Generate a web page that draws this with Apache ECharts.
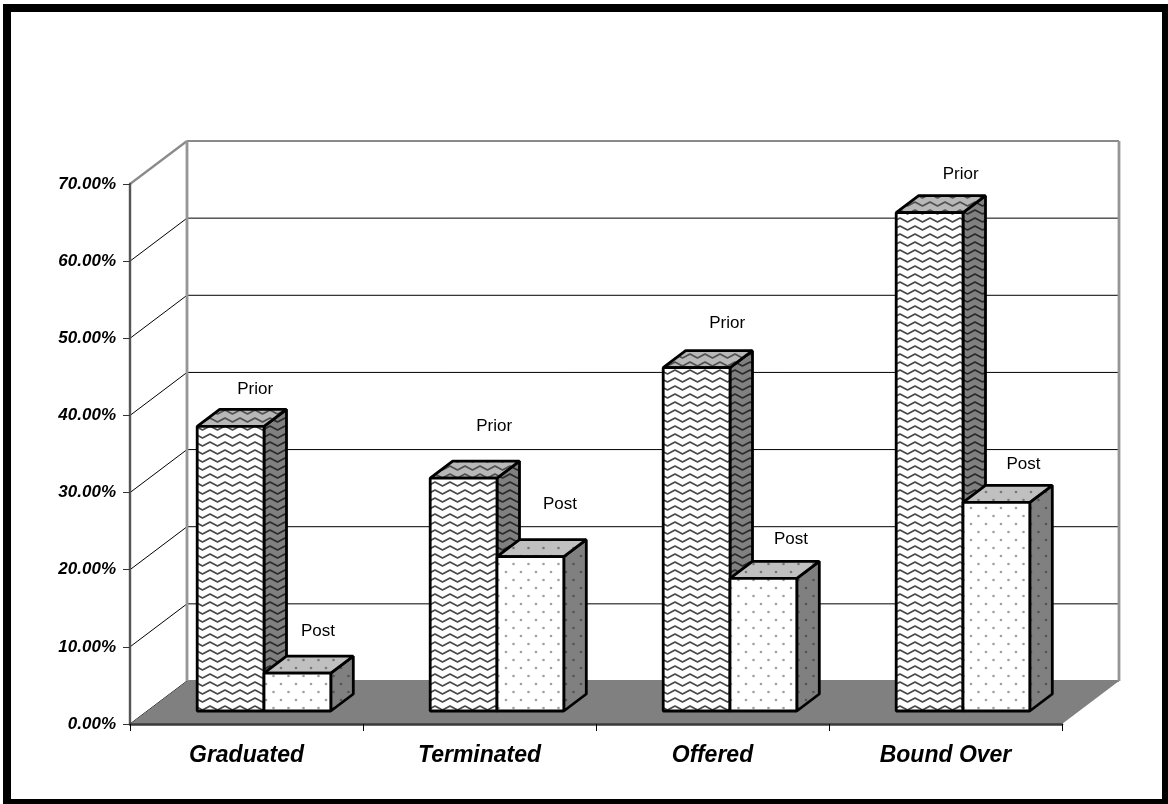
<!DOCTYPE html>
<html>
<head>
<meta charset="utf-8">
<title>Prior and Post rates by outcome</title>
<script src="https://cdn.jsdelivr.net/npm/echarts@6/dist/echarts.min.js"></script>
<style>
  html, body { margin: 0; padding: 0; background: #fff; }
  #chart { width: 1168px; height: 804px; }
</style>
</head>
<body>
<div id="chart"></div>
<script>
// Chart values, in percent
const categories = ['Graduated', 'Terminated', 'Offered', 'Bound Over'];
const priorValues = [36.9, 30.2, 44.5, 64.6];
const postValues = [4.9, 20.0, 17.2, 27.05];
const axisTicks = [0, 10, 20, 30, 40, 50, 60, 70];

// Hand-placed data labels: [shift right of the bar's centre, lift above its front top]
const priorLabelShift = [[24.5, 37], [30.5, 52], [30.5, 44.5], [31, 38.5]];
const postLabelShift = [[20.5, 42], [29.5, 52.5], [27.5, 39], [27, 38]];

// Oblique projection of the box: how far the back plane sits from the front plane
const ROOM_DEPTH = [57, -43];
const BAR_DEPTH = [22.5, -17];
const BAR_WIDTH = 66.8;
const BAR_INSET = 13;       // bars stand this far behind the front edge of the floor
const BAR_SHIFT = 17.5;     // and this far right of the category centre

const FONT = '"Liberation Sans", Arial, sans-serif';

function tile(w, h, background, paint) {
  const c = document.createElement('canvas');
  c.width = w;
  c.height = h;
  const ctx = c.getContext('2d');
  ctx.fillStyle = background;
  ctx.fillRect(0, 0, w, h);
  paint(ctx);
  return { image: c, repeat: 'repeat' };
}

function waveTile(background, ink) {
  return tile(15, 8, background, ctx => {
    ctx.strokeStyle = ink;
    ctx.lineWidth = 1.7;
    ctx.lineJoin = 'round';
    ctx.beginPath();
    ctx.moveTo(-7.5, 6);
    ctx.lineTo(0, 2);
    ctx.lineTo(7.5, 6);
    ctx.lineTo(15, 2);
    ctx.lineTo(22.5, 6);
    ctx.stroke();
  });
}

function dotTile(background, ink) {
  return tile(15, 16, background, ctx => {
    ctx.fillStyle = ink;
    ctx.beginPath();
    ctx.arc(3.5, 4, 1.35, 0, Math.PI * 2);
    ctx.closePath();
    ctx.arc(11, 12, 1.35, 0, Math.PI * 2);
    ctx.fill();
  });
}

const priorFaces = {
  front: waveTile('#ffffff', '#4a4a4a'),
  top: waveTile('#b8b8b8', '#505050'),
  side: waveTile('#808080', '#2a2a2a')
};
const postFaces = {
  front: dotTile('#ffffff', '#a0a0a0'),
  top: dotTile('#c0c0c0', '#777777'),
  side: dotTile('#808080', '#555555')
};

function polygon(points, fill) {
  return {
    type: 'polygon',
    shape: { points },
    style: { fill, stroke: '#000', lineWidth: 2.8, lineJoin: 'bevel' }
  };
}

// One 3D bar: front, top and side faces plus its text label.
// slot 0 sits left of the cluster's centre line, slot 1 to the right.
function boxRenderer(slot, faces, labelShift, labelText) {
  return (params, api) => {
    const index = api.value(0);
    const base = api.coord([index, 0]);
    const tip = api.coord([index, api.value(1)]);
    const left = base[0] + BAR_SHIFT + (slot - 1) * BAR_WIDTH;
    const right = left + BAR_WIDTH;
    const bottom = base[1] - BAR_INSET;
    const top = tip[1] - BAR_INSET;
    const [dx, dy] = BAR_DEPTH;
    const [shiftX, shiftY] = labelShift[index];
    return {
      type: 'group',
      children: [
        polygon([[right, top], [right + dx, top + dy], [right + dx, bottom + dy], [right, bottom]], faces.side),
        polygon([[left, top], [left + dx, top + dy], [right + dx, top + dy], [right, top]], faces.top),
        polygon([[left, top], [right, top], [right, bottom], [left, bottom]], faces.front),
        {
          type: 'text',
          style: {
            text: labelText,
            x: left + BAR_WIDTH / 2 + shiftX,
            y: top - shiftY,
            align: 'center',
            verticalAlign: 'middle',
            fill: '#000',
            font: '17px ' + FONT
          }
        }
      ]
    };
  };
}

// Gridlines across the left and back walls, one per axis tick
function wallLineRenderer(params, api) {
  const value = api.value(1);
  const sys = params.coordSys;
  const y = api.coord([0, value])[1];
  const bx = sys.x + ROOM_DEPTH[0];
  const by = y + ROOM_DEPTH[1];
  const isTop = value === axisTicks[axisTicks.length - 1];
  const colour = isTop ? '#8a8a8a' : '#000';
  const width = isTop ? 2.2 : 1;
  return {
    type: 'group',
    children: [
      { type: 'line', shape: { x1: sys.x, y1: y, x2: bx, y2: by }, style: { stroke: colour, lineWidth: width } },
      { type: 'line', shape: { x1: bx, y1: by, x2: bx + sys.width, y2: by }, style: { stroke: colour, lineWidth: width } }
    ]
  };
}

// Back wall side edges and the grey floor
function roomRenderer(params, api) {
  const sys = params.coordSys;
  const low = api.coord([0, 0])[1];
  const high = api.coord([0, axisTicks[axisTicks.length - 1]])[1];
  const x0 = sys.x;
  const x1 = x0 + sys.width;
  const [dx, dy] = ROOM_DEPTH;
  const edge = { stroke: '#969696', lineWidth: 2.8 };
  return {
    type: 'group',
    children: [
      { type: 'line', shape: { x1: x0 + dx, y1: high + dy, x2: x0 + dx, y2: low + dy }, style: edge },
      { type: 'line', shape: { x1: x1 + dx, y1: high + dy, x2: x1 + dx, y2: low + dy }, style: edge },
      {
        type: 'polygon',
        shape: { points: [[x0, low], [x0 + dx, low + dy], [x1 + dx, low + dy], [x1, low]] },
        style: { fill: '#808080' }
      }
    ]
  };
}

const chart = echarts.init(document.getElementById('chart'), null, { renderer: 'canvas' });

function customSeries(name, renderItem, data, z) {
  return {
    name,
    type: 'custom',
    coordinateSystem: 'cartesian2d',
    renderItem,
    data,
    z,
    clip: false,
    silent: true,
    animation: false,
    encode: { x: 0, y: 1 }
  };
}

chart.setOption({
  animation: false,
  backgroundColor: '#ffffff',
  grid: { left: 130, top: 184, width: 932, height: 540, containLabel: false },
  graphic: [{
    type: 'rect',
    z: 100,
    shape: { x: 7, y: 8, width: 1159, height: 795 },
    style: { fill: 'none', stroke: '#000', lineWidth: 8 }
  }],
  xAxis: {
    type: 'category',
    data: categories,
    z: 10,
    boundaryGap: true,
    axisLine: { show: true, lineStyle: { color: '#3a3a3a', width: 2.6 } },
    axisTick: { show: true, length: 7, alignWithLabel: false, lineStyle: { color: '#000', width: 1 } },
    axisLabel: {
      margin: 20,
      interval: 0,
      color: '#000',
      fontFamily: FONT,
      fontWeight: 'bold',
      fontStyle: 'italic',
      fontSize: 23
    },
    splitLine: { show: false }
  },
  yAxis: {
    type: 'value',
    min: axisTicks[0],
    max: axisTicks[axisTicks.length - 1],
    interval: axisTicks[1] - axisTicks[0],
    z: 10,
    axisLine: { show: true, lineStyle: { color: '#555555', width: 2.4 } },
    axisTick: { show: true, length: 7, lineStyle: { color: '#333', width: 1 } },
    axisLabel: {
      margin: 14,
      color: '#000',
      fontFamily: FONT,
      fontWeight: 'bold',
      fontStyle: 'italic',
      fontSize: 17,
      formatter: v => v.toFixed(2) + '%'
    },
    splitLine: { show: false }
  },
  series: [
    customSeries('Walls', wallLineRenderer, axisTicks.map(v => [0, v]), 2),
    customSeries('Room', roomRenderer, [[0, 0]], 3),
    customSeries('Prior', boxRenderer(0, priorFaces, priorLabelShift, 'Prior'), priorValues.map((v, i) => [i, v]), 4),
    customSeries('Post', boxRenderer(1, postFaces, postLabelShift, 'Post'), postValues.map((v, i) => [i, v]), 5)
  ]
});
</script>
</body>
</html>
